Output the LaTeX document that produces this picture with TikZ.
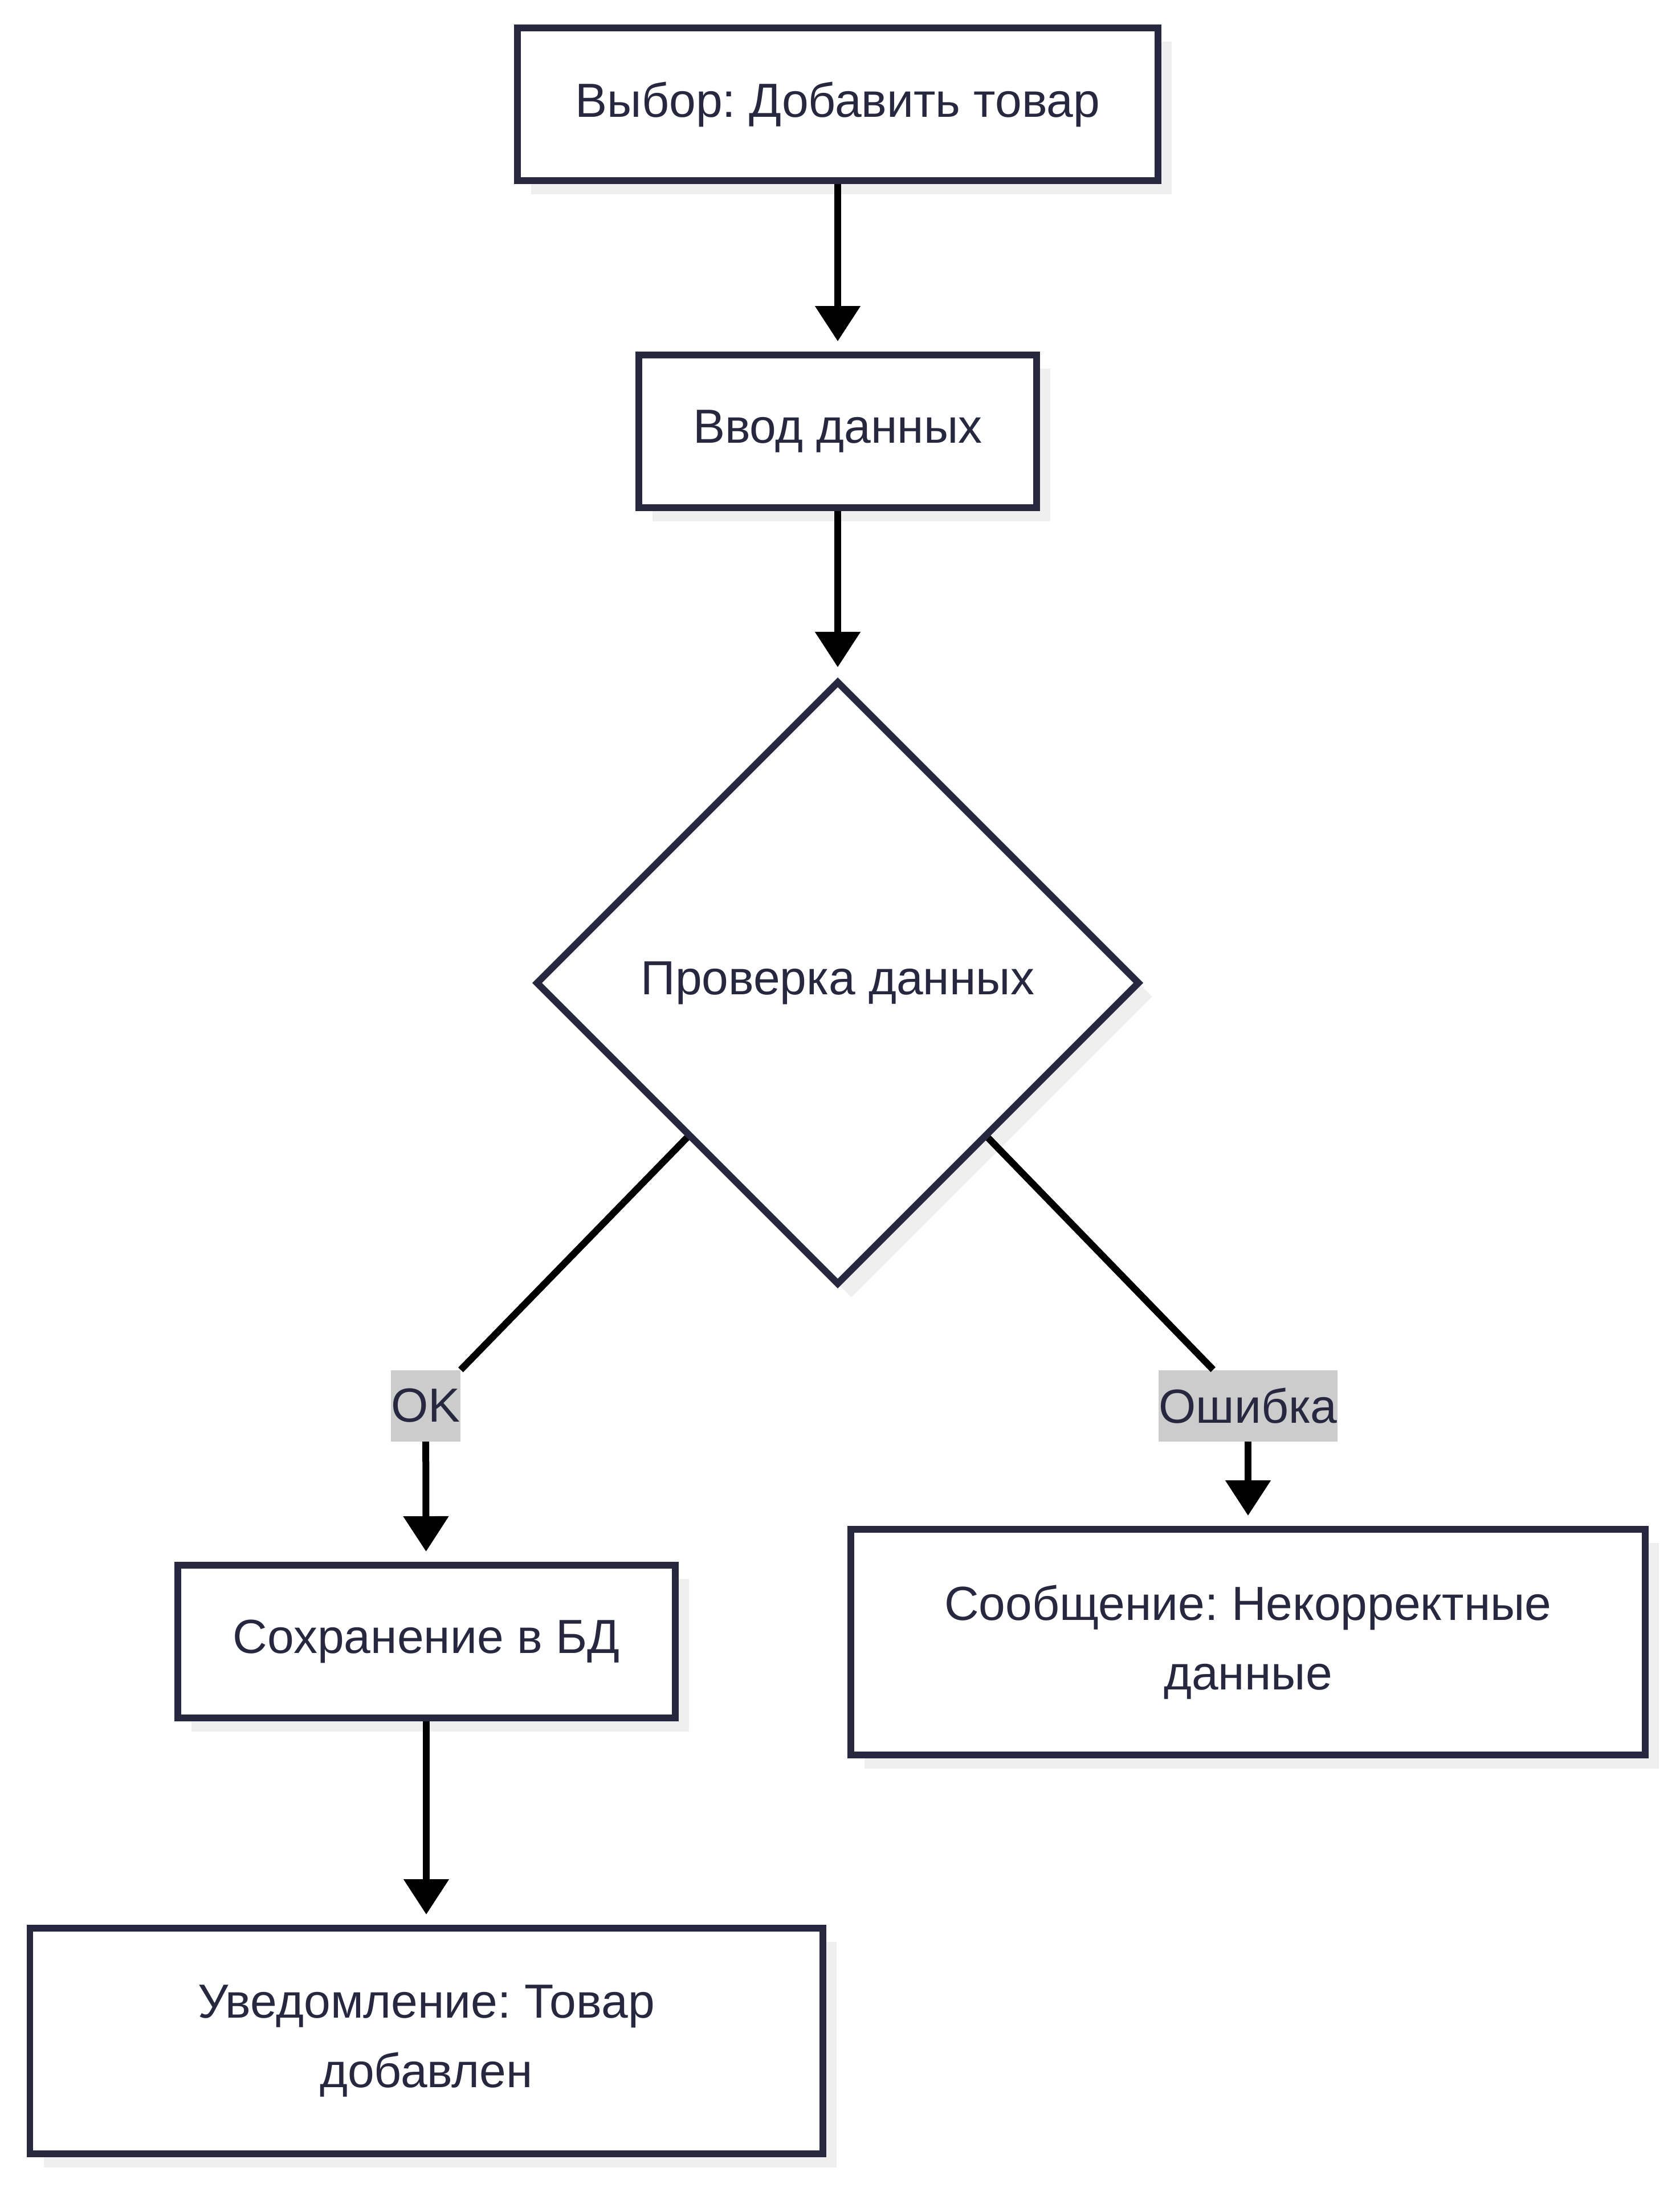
\documentclass[tikz,border=0pt]{standalone}
\usepackage{fontspec}
\setmainfont{Liberation Sans}
\frenchspacing
\usetikzlibrary{shapes.geometric,arrows.meta,shadows}
\definecolor{flowline}{HTML}{27273F}
\definecolor{flowshadow}{HTML}{EFEFEF}
\definecolor{flowlabel}{HTML}{CCCCCC}

\begin{document}
\begin{tikzpicture}
  [every node/.style={font=\fontsize{23.9}{34.8}\selectfont,text=flowline},
   boxshadow/.style={drop shadow={shadow xshift=0.24cm,shadow yshift=-0.24cm,fill=flowshadow,opacity=1}},
   stepbox/.style={rectangle,draw=flowline,line width=0.12cm,fill=white,align=center,boxshadow},
   checkbox/.style={diamond,draw=flowline,line width=0.12cm,fill=white,inner sep=0pt,
     minimum width=10.6cm,minimum height=10.6cm,boxshadow},
   edgelabel/.style={fill=flowlabel,inner xsep=0pt,inner ysep=0pt,minimum height=1.25cm},
   link/.style={line width=0.12cm},
   flow/.style={link,-{Triangle[length=0.62cm,width=0.77cm]},shorten >=0.18cm}]
  \useasboundingbox (0,0) rectangle (29.47,-38.40);
  \node[stepbox,minimum width=11.24cm,minimum height=2.68cm] (start) at (14.70,-1.83) {Выбор: Добавить товар};
  \node[stepbox,minimum width=6.98cm,minimum height=2.68cm] (input) at (14.70,-7.57) {Ввод данных};
  \node[checkbox] (check) at (14.70,-17.25) {Проверка данных};
  \node[edgelabel] (okl) at (7.47,-24.67) {OK};
  \node[edgelabel] (errl) at (21.90,-24.67) {Ошибка};
  \node[stepbox,minimum width=8.73cm,minimum height=2.68cm] (save) at (7.48,-28.81) {Сохранение в БД};
  \node[stepbox,minimum width=13.94cm,minimum height=3.96cm] (errmsg) at (21.90,-28.82) {Сообщение: Некорректные\\данные};
  \node[stepbox,minimum width=13.91cm,minimum height=3.96cm] (done) at (7.48,-35.82) {Уведомление: Товар\\добавлен};
  \draw[flow] (start) -- (input);
  \draw[flow] (input) -- (check);
  \draw[link] (check) -- (okl);
  \draw[flow] (okl) -- (save);
  \draw[link] (check) -- (errl);
  \draw[flow] (errl) -- (errmsg);
  \draw[flow] (save) -- (done);
\end{tikzpicture}
\end{document}
